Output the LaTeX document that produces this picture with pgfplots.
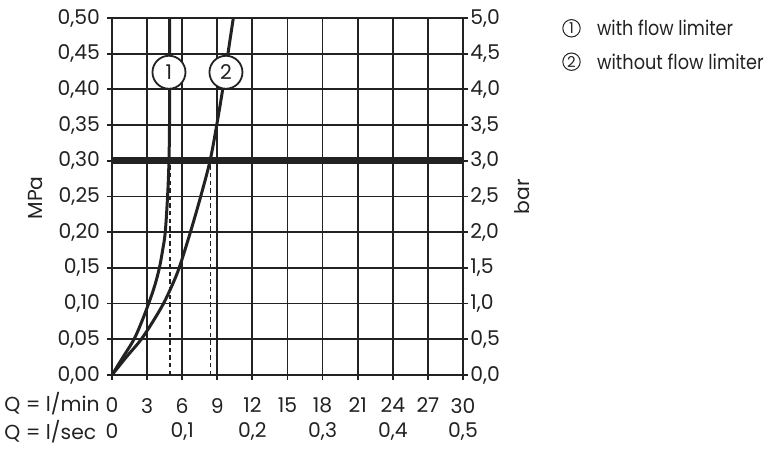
\documentclass[border=0pt]{standalone}
\usepackage{fontspec}
\setmainfont{Poppins}
\usepackage{graphicx}
\usepackage{pgfplots}
\pgfplotsset{compat=1.18}
\definecolor{ink}{HTML}{222222}
\newcommand{\fs}{\fontsize{10.2}{12}\selectfont}
\begin{document}
\begin{tikzpicture}
\useasboundingbox (-56bp,-46.5bp) rectangle (334bp,187.5bp);
\begin{axis}[
  at={(0,0)}, anchor=south west, scale only axis,
  width=175.5bp, height=178.5bp,
  xmin=0, xmax=30, ymin=0, ymax=0.5,
  xtick={0,3,6,9,12,15,18,21,24,27,30},
  ytick={0,0.05,0.1,0.15,0.2,0.25,0.3,0.35,0.4,0.45,0.5},
  xtick pos=bottom, ytick pos=left,
  grid=major, grid style={ink, line width=0.9bp},
  axis line style={ink, line width=1.2bp},
  tick style={ink, line width=0.9bp}, major tick length=5bp, tick align=center,
  ticklabel style={font=\fs, text=ink},
  yticklabel style={/pgf/number format/.cd, use comma, fixed, fixed zerofill, precision=2, assume math mode=true},
  xticklabel style={yshift=-5.5bp, /pgf/number format/assume math mode=true},
  ylabel={MPa}, ylabel style={font=\fs, text=ink, at={(axis description cs:-0.219,0.496)}, anchor=center},
  clip=false,
]
\addplot[ink, line width=3.5bp] coordinates {(0,0.3) (30,0.3)};
\addplot[ink, line width=0.7bp, dash pattern=on 2.2bp off 1.6bp] coordinates {(4.95,0) (4.95,0.3)};
\addplot[ink, line width=0.7bp, dash pattern=on 2.2bp off 1.6bp] coordinates {(8.4,0) (8.4,0.3)};
\addplot[ink, line width=1.5bp, smooth, tension=0.55] coordinates {
  (0,0) (0.94,0.025) (1.88,0.05) (2.55,0.075) (3.13,0.1) (3.65,0.125) (4.05,0.15)
  (4.33,0.175) (4.55,0.2) (4.75,0.25) (4.87,0.3) (4.92,0.36) (4.93,0.43) (4.93,0.5)};
\addplot[ink, line width=1.5bp, smooth, tension=0.55] coordinates {
  (0,0) (1.22,0.025) (2.5,0.05) (3.5,0.075) (4.4,0.1) (5.12,0.125) (5.74,0.15)
  (6.7,0.2) (7.58,0.25) (8.38,0.3) (8.95,0.35) (9.46,0.4) (9.91,0.45) (10.37,0.5)};
\node[circle, draw=ink, line width=0.9bp, fill=white, minimum size=16.5bp, inner sep=0pt, font=\fs, text=ink] at (axis cs:4.87,0.424) {1};
\node[circle, draw=ink, line width=0.9bp, fill=white, minimum size=16.5bp, inner sep=0pt, font=\fs, text=ink] at (axis cs:9.74,0.424) {2};
\begin{scope}[every node/.style={font=\fs, text=ink, anchor=center, inner sep=0pt}]
\node at (axis cs:0,0) [yshift=-28.25bp] {0};
\node at (axis cs:6,0) [yshift=-28.25bp] {0,1};
\node at (axis cs:12,0) [yshift=-28.25bp] {0,2};
\node at (axis cs:18,0) [yshift=-28.25bp] {0,3};
\node at (axis cs:24,0) [yshift=-28.25bp] {0,4};
\node at (axis cs:30,0) [yshift=-28.25bp] {0,5};
\node[anchor=east] at (axis cs:0,0) [xshift=-6bp, yshift=-14.5bp] {Q = l/min};
\node[anchor=east] at (axis cs:0,0) [xshift=-7.7bp, yshift=-28.25bp] {Q = l/sec};
\end{scope}
\end{axis}
\begin{axis}[
  at={(0,0)}, anchor=south west, scale only axis,
  width=175.5bp, height=178.5bp,
  xmin=0, xmax=30, ymin=0, ymax=5,
  axis x line=none, axis y line*=right,
  ytick={0,0.5,1,1.5,2,2.5,3,3.5,4,4.5,5},
  axis line style={ink, line width=1.2bp},
  tick style={ink, line width=0.9bp}, major tick length=5bp, tick align=center,
  ticklabel style={font=\fs, text=ink},
  yticklabel style={xshift=-2.3bp, /pgf/number format/.cd, use comma, fixed, fixed zerofill, precision=1, assume math mode=true},
  ylabel={bar}, ylabel style={font=\fs, text=ink, at={(axis description cs:1.167,0.499)}, anchor=center, rotate=0},
]
\end{axis}
\begin{scope}[every node/.style={text=ink}]
\node[circle, draw=ink, line width=0.5bp, minimum size=8.7bp, inner sep=0pt, font=\fontsize{7.5}{8}\selectfont] at (229.75bp,173.35bp) {1};
\node[font=\fs, anchor=west, inner sep=0pt] at (242.35bp,173.35bp) {\resizebox{68bp}{\height}{with flow limiter}};
\node[circle, draw=ink, line width=0.5bp, minimum size=8.7bp, inner sep=0pt, font=\fontsize{7.5}{8}\selectfont] at (229.75bp,156.65bp) {2};
\node[font=\fs, anchor=west, inner sep=0pt] at (242.35bp,156.65bp) {\resizebox{83.3bp}{\height}{without flow limiter}};
\end{scope}
\end{tikzpicture}
\end{document}
